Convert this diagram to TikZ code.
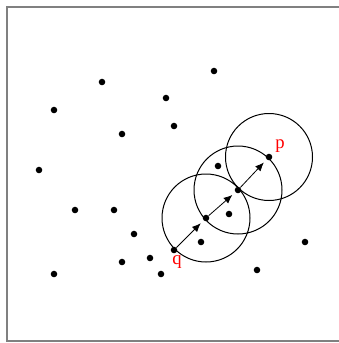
\documentclass[tikz,border=0pt]{standalone}
\usepackage{fontspec}
\setmainfont{Liberation Serif}
\usetikzlibrary{arrows.meta}
\begin{document}
\begin{tikzpicture}[
    x=0.75pt, y=-0.75pt,
    pt/.style={circle, fill=black, inner sep=0pt, minimum size=4.9pt},
    ball/.style={draw, line width=0.75pt},
    hop/.style={-{Latex[length=6.5pt, width=5.5pt]}, line width=0.6pt, shorten >=3pt},
    lbl/.style={text=red, font=\fontsize{14}{16}\selectfont, inner sep=1pt},
]
    \useasboundingbox (0,0) rectangle (339,343);
    \clip (0,0) rectangle (339,343);

    % Frame
    \draw[gray, line width=1.5pt] (7,7) rectangle (360,341);

    % Scattered points
    \node[pt] (a1) at (214,71) {};
    \node[pt] (a2) at (102,82) {};
    \node[pt] (a3) at (166,98) {};
    \node[pt] (a4) at (54,110) {};
    \node[pt] (a5) at (174,126) {};
    \node[pt] (a6) at (122,134) {};
    \node[pt] (a7) at (39,170) {};
    \node[pt] (a8) at (218,166) {};
    \node[pt] (a9) at (75,210) {};
    \node[pt] (a10) at (114,210) {};
    \node[pt] (a11) at (229,214) {};
    \node[pt] (a12) at (134,234) {};
    \node[pt] (a13) at (201,242) {};
    \node[pt] (a14) at (305,242) {};
    \node[pt] (a15) at (150,258) {};
    \node[pt] (a16) at (122,262) {};
    \node[pt] (a17) at (54,274) {};
    \node[pt] (a18) at (161,274) {};
    \node[pt] (a19) at (257,270) {};

    % Chain from q to p
    \node[pt] (q) at (174,250) {};
    \node[pt] (m1) at (206,218) {};
    \node[pt] (m2) at (238,190) {};
    \node[pt] (p) at (269,157) {};

    % Neighbourhoods
    \draw[ball] (m1) circle[radius=44];
    \draw[ball] (m2) circle[radius=44];
    \draw[ball] (p) circle[radius=43.5];

    % Arrows
    \draw[hop] (q) -- (m1);
    \draw[hop] (m1) -- (m2);
    \draw[hop] (m2) -- (p);

    % Labels
    \node[lbl] (plbl) at (280,146) {p};
    \node[lbl] (qlbl) at (177,262) {q};
\end{tikzpicture}
\end{document}
